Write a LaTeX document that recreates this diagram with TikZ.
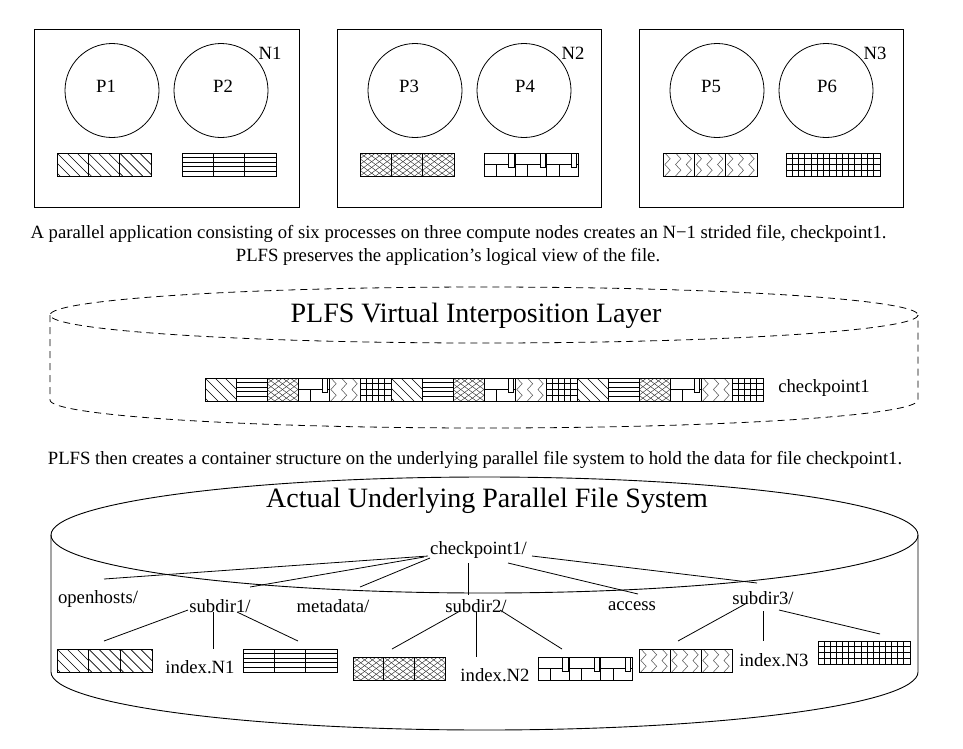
\documentclass[tikz,border=0pt]{standalone}
\usepackage{fontspec}
\setmainfont{Liberation Serif}
\newcommand\patD{\foreach \a in {-20,-10,...,30} {\draw[hatch] (\a,0) -- ++(23,23);}}
\newcommand\patH{\foreach \t in {4.6,9.2,13.8,18.4} {\draw[hline] (0,\t) -- (\cw,\t);}}
\newcommand\patX{\foreach \i in {-4,...,8} {\draw[xnet] (\i*7.75,0) -- ++(31,23); \draw[xnet] (\i*7.75,0) -- ++(-31,23);}}
\newcommand\patB{%
  \draw[bk] (0,11.5) -- (0.79*\cw,11.5);
  \draw[bk] (0.79*\cw,0) -- (0.79*\cw,14.5) -- (0.96*\cw,14.5) -- (0.96*\cw,0);
  \draw[bk] (0.96*\cw,11.5) -- (\cw,11.5);
  \draw[bk] (0.4*\cw,11.5) -- (0.4*\cw,23);}
\newcommand\patZ{\foreach \k in {0,1,2} {\draw[zz] ({(0.06+0.34*\k)*\cw},0) -- ++(0.17*\cw,5.75) -- ++(-0.17*\cw,5.75) -- ++(0.17*\cw,5.75) -- ++(-0.17*\cw,5.75);}}
\newcommand\patG{\foreach \i in {1,...,4} {\draw[gr] (\i*\cw/5,0) -- (\i*\cw/5,23);}
  \foreach \j in {1,2,3} {\draw[gr] (0,\j*5.75) -- (\cw,\j*5.75);}}
\newcommand\pcell[4]{%
  \begin{scope}[shift={(#2,#3)}]
    \pgfmathsetmacro\cw{#4}
    \begin{scope}
      \clip (0,0) rectangle (\cw,23);
      \csname pat#1\endcsname
    \end{scope}
    \draw[cellb] (0,0) rectangle (\cw,23);
  \end{scope}}
\newcommand\pblock[4]{\foreach \ii in {0,1,2} {\pcell{#1}{#2+\ii*#4}{#3}{#4}}}
\tikzset{
  box/.style={draw, line width=0.9pt},
  circ/.style={circle, draw, line width=0.8pt, minimum size=94pt, inner sep=0pt},
  cellb/.style={line width=0.9pt},
  hatch/.style={line width=0.6pt},
  hline/.style={line width=1pt},
  xnet/.style={line width=0.45pt, black!80},
  bk/.style={line width=0.9pt},
  zz/.style={line width=0.55pt, black!65},
  gr/.style={line width=0.9pt},
  lbl/.style={inner sep=0pt, font=\fontsize{18.7}{22}\selectfont},
  ttl/.style={inner sep=0pt, font=\fontsize{28}{32}\selectfont},
  conn/.style={line width=0.8pt},
  dcyl/.style={line width=0.8pt, dash pattern=on 7pt off 5pt},
  scyl/.style={line width=0.9pt}
}
\begin{document}
\begin{tikzpicture}[x=1pt,y=-1pt]
\useasboundingbox (0,0) rectangle (963,748);
% compute nodes
\draw[box] (34,29) rectangle (299,207);
\draw[box] (337,29) rectangle (601,207);
\draw[box] (639,29) rectangle (903,207);
\node[circ] (c1) at (112,90.5) {};
\node[circ] (c2) at (221,90.5) {};
\node[circ] (c3) at (415,90.5) {};
\node[circ] (c4) at (524,90.5) {};
\node[circ] (c5) at (717,90.5) {};
\node[circ] (c6) at (826,90.5) {};
\node[lbl] (p1) at (106,86) {P1};
\node[lbl] (p2) at (223,86) {P2};
\node[lbl] (p3) at (409,86) {P3};
\node[lbl] (p4) at (525,86) {P4};
\node[lbl] (p5) at (711,86) {P5};
\node[lbl] (p6) at (827,86) {P6};
\node[lbl] (n1) at (270,53) {N1};
\node[lbl] (n2) at (573,53) {N2};
\node[lbl] (n3) at (875,53) {N3};
\pblock{D}{57}{153}{31.33}
\pblock{H}{182}{153}{31.33}
\pblock{X}{360}{153}{31.33}
\pblock{B}{484}{153}{31.33}
\pblock{Z}{663}{153}{31.33}
\pblock{G}{786}{153}{31.33}
% captions
\node[lbl] (cap1) at (458.5,234) {A parallel application consisting of six processes on three compute nodes creates an N\symbol{"2212}1 strided file, checkpoint1.};
\node[lbl] (cap2) at (448,257) {PLFS preserves the application’s logical view of the file.};
% virtual layer
\draw[dcyl] (484,315) ellipse [x radius=434, y radius=28];
\draw[dcyl] (50,315) -- (50,400) arc[start angle=180, end angle=0, x radius=434, y radius=28] -- (918,315);
\node[ttl] (vl) at (476,316) {PLFS Virtual Interposition Layer};
\foreach \t [count=\i from 0] in {D,H,X,B,Z,G,D,H,X,B,Z,G,D,H,X,B,Z,G} {\pcell{\t}{205+31*\i}{378}{31}}
\node[lbl] (ck) at (824,388) {checkpoint1};
\node[lbl] (cap3) at (475,460) {PLFS then creates a container structure on the underlying parallel file system to hold the data for file checkpoint1.};
% underlying fs
\draw[scyl] (484.5,535) ellipse [x radius=433.5, y radius=58];
\draw[scyl] (51,535) -- (51,672) arc[start angle=180, end angle=0, x radius=433.5, y radius=58] -- (918,535);
\node[ttl] (pfs) at (487,501) {Actual Underlying Parallel File System};
% tree
\node[lbl] (cp) at (478.5,550) {checkpoint1/};
\node[lbl] (oh) at (98,599) {openhosts/};
\node[lbl] (s1) at (220,606) {subdir1/};
\node[lbl] (md) at (333,606) {metadata/};
\node[lbl] (s2) at (476,606) {subdir2/};
\node[lbl] (ac) at (632,606) {access};
\node[lbl] (s3) at (763,598) {subdir3/};
\node[lbl] (i1) at (200,667) {index.N1};
\node[lbl] (i2) at (495,675) {index.N2};
\node[lbl] (i3) at (774,660) {index.N3};
\pblock{D}{57}{649}{31.67}
\pblock{H}{243}{649}{31.33}
\pblock{X}{353}{657}{30.67}
\pblock{B}{538}{657}{31.33}
\pblock{Z}{639}{649}{31}
\pblock{G}{818}{641}{30.67}
\coordinate (cpa) at (428,556); \coordinate (oha) at (104,579);
\coordinate (cpb) at (424,557); \coordinate (s1a) at (250,587);
\coordinate (cpc) at (430,558); \coordinate (mda) at (360,587);
\coordinate (cpd) at (468,563); \coordinate (s2a) at (468,595);
\coordinate (cpe) at (508,563); \coordinate (aca) at (638,594);
\coordinate (cpf) at (532,556); \coordinate (s3a) at (757,583);
\coordinate (s1b) at (188,610); \coordinate (b1a) at (104,641);
\coordinate (s1c) at (213,612); \coordinate (i1a) at (213,649);
\coordinate (s1d) at (237,612); \coordinate (b2a) at (298,641);
\coordinate (s2b) at (460,611); \coordinate (b3a) at (392,649);
\coordinate (s2c) at (476,612); \coordinate (i2a) at (476,657);
\coordinate (s2d) at (500,610); \coordinate (b4a) at (562,649);
\coordinate (s3b) at (747,603); \coordinate (b5a) at (678,641);
\coordinate (s3c) at (763,611); \coordinate (i3a) at (763,641);
\coordinate (s3d) at (779,610); \coordinate (b6a) at (880,634);
\draw[conn] (cpa) -- (oha);
\draw[conn] (cpb) -- (s1a);
\draw[conn] (cpc) -- (mda);
\draw[conn] (cpd) -- (s2a);
\draw[conn] (cpe) -- (aca);
\draw[conn] (cpf) -- (s3a);
\draw[conn] (s1b) -- (b1a);
\draw[conn] (s1c) -- (i1a);
\draw[conn] (s1d) -- (b2a);
\draw[conn] (s2b) -- (b3a);
\draw[conn] (s2c) -- (i2a);
\draw[conn] (s2d) -- (b4a);
\draw[conn] (s3b) -- (b5a);
\draw[conn] (s3c) -- (i3a);
\draw[conn] (s3d) -- (b6a);
\end{tikzpicture}
\end{document}
